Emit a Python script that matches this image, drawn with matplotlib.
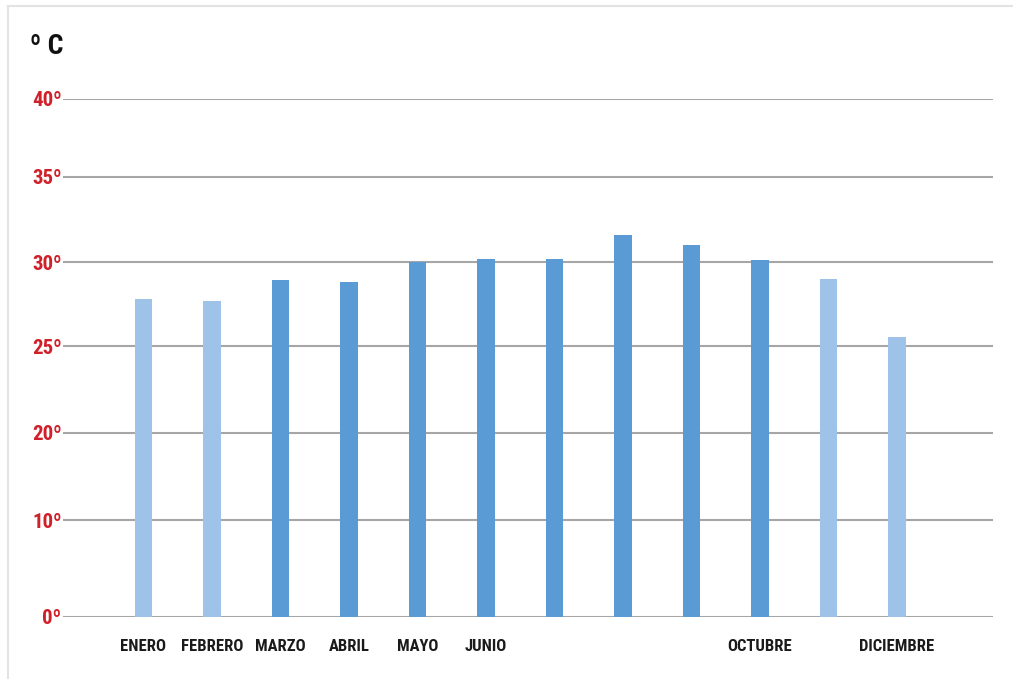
import numpy as np
import matplotlib
matplotlib.use("Agg")
import matplotlib.pyplot as plt
from matplotlib.lines import Line2D
from matplotlib import font_manager as fm

# ---- data ----
months = ["ENERO", "FEBRERO", "MARZO", "ABRIL", "MAYO", "JUNIO",
          "JULIO", "AGOSTO", "SEPTIEMBRE", "OCTUBRE", "NOVIEMBRE", "DICIEMBRE"]
month_labels = ["ENERO", "FEBRERO", "MARZO", "ABRIL", "MAYO", "JUNIO",
                "", "", "", "OCTUBRE", "", "DICIEMBRE"]
temps = [27.8, 27.7, 28.9, 28.8, 30.0, 30.2, 30.2, 31.6, 31.0, 30.1, 29.0, 25.55]
season = ["seca", "seca", "lluvias", "lluvias", "lluvias", "lluvias",
          "lluvias", "lluvias", "lluvias", "lluvias", "seca", "seca"]
tick_vals = [0, 10, 20, 25, 30, 35, 40]
tick_labels = ["0º", "10º", "20º", "25º", "30º", "35º", "40º"]

# ---- non-uniform y scale (breakpoints of the printed axis) ----
scale_pos = np.array([0.0, 96.7, 183.7, 270.7, 354.7, 439.7, 517.7])
scale_pos = scale_pos / scale_pos[-1] * 40.0
tv = np.array(tick_vals, dtype=float)


def fwd(v):
    return np.interp(v, tv, scale_pos)


def inv(u):
    return np.interp(u, scale_pos, tv)


colors = {"seca": "#9fc3e8", "lluvias": "#5b9bd5"}

# pick a condensed face if one is installed
installed = {f.name for f in fm.fontManager.ttflist}
cond_names = [n for n in ["Roboto Condensed", "Open Sans Condensed",
                          "DejaVu Sans Condensed", "Liberation Sans Narrow",
                          "Noto Sans Condensed"] if n in installed]
has_cond_dejavu = any(f.name == "DejaVu Sans" and f.stretch in ("condensed", 500 - 200)
                      for f in fm.fontManager.ttflist)
if cond_names:
    narrow = [cond_names[0], "DejaVu Sans"]
    m_size, y_size, c_size = 12, 15, 20
else:
    narrow = ["Liberation Sans", "DejaVu Sans"]
    m_size, y_size, c_size = 9.5, 12.5, 17

W, H = 1013, 679
fig = plt.figure(figsize=(W / 100, H / 100), dpi=100)
ax = fig.add_axes([63 / W, (H - 616.7) / H, (993 - 63) / W, (616.7 - 99) / H])
ax.set_yscale("function", functions=(fwd, inv))

x = np.arange(len(months))
ax.bar(x, temps, width=0.26, color=[colors[s] for s in season], zorder=3)

ax.set_xlim(-1.175, 12.40)
ax.set_ylim(0, 40)
ax.set_yticks(tick_vals)
ax.set_yticklabels(tick_labels, color="#d0202a", fontsize=y_size,
                   family=narrow, fontweight="bold")
ax.yaxis.set_minor_locator(matplotlib.ticker.NullLocator())
ax.set_xticks(x)
ax.set_xticklabels(month_labels, fontsize=m_size, family=narrow,
                   fontweight="bold", color="#1a1a1a")
ax.tick_params(axis="y", length=0, pad=1)
ax.tick_params(axis="x", length=0, pad=16)
ax.grid(axis="y", color="#a6a6a6", linewidth=1.5, zorder=1)
for s in ax.spines.values():
    s.set_visible(False)

fig.text(30 / W, 1 - 46 / H, "º C", fontsize=c_size, family=narrow,
         fontweight="bold", color="#111111", va="center", ha="left")

# light frame of the figure
fig.add_artist(Line2D([8 / W, 1], [1 - 6 / H, 1 - 6 / H], color="#e3e3e3",
                      lw=1.5, transform=fig.transFigure))
fig.add_artist(Line2D([8 / W, 8 / W], [0, 1 - 6 / H], color="#e3e3e3",
                      lw=1.5, transform=fig.transFigure))

fig.savefig("out.png", dpi=100)
